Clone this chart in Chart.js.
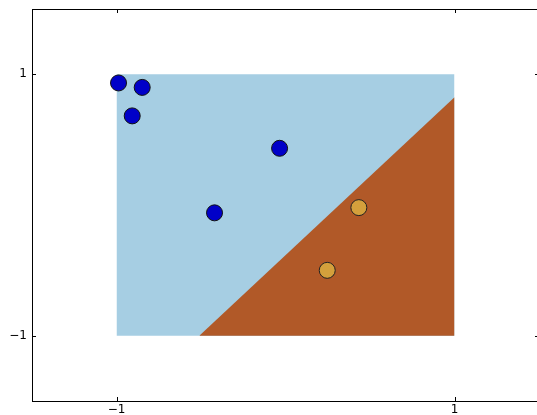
<!DOCTYPE html>
<html>
<head>
<meta charset="utf-8">
<script src="https://cdn.jsdelivr.net/npm/chart.js@4"></script>
<style>
  html, body { margin: 0; padding: 0; background: #fff; overflow: hidden; }
  #wrap { width: 537px; height: 415px; overflow: hidden; }
  #inner { position: relative; width: 548px; height: 415px; }
</style>
</head>
<body>
<div id="wrap"><div id="inner"><canvas id="myChart"></canvas></div></div>
<script>
// sample points, class 0 (blue) and class 1 (gold)
const blueX = [-0.988, -0.848, -0.907, -0.035, -0.42];
const blueY = [0.934, 0.90, 0.682, 0.434, -0.06];
const goldX = [0.434, 0.247];
const goldY = [-0.02, -0.50];

// background mesh box and decision boundary
const boxX = [-1, 1];
const boxTop = 1;
const boxBottom = -1;
const boundaryX = [-0.51, 1];
const boundaryY = [-1, 0.824];

const tickValues = [-1, 1];
const axisMin = -1.5;
const axisMax = 1.5;

function toPoints(xs, ys) {
  return xs.map((x, i) => ({ x: x, y: ys[i] }));
}

// inward ticks on all four sides + frame, like old matplotlib
const frameTicks = {
  id: 'frameTicks',
  afterDraw(chart) {
    const ctx = chart.ctx;
    const a = chart.chartArea;
    const xs = chart.scales.x;
    const ys = chart.scales.y;
    ctx.save();
    ctx.strokeStyle = '#000';
    ctx.lineWidth = 1;
    ctx.beginPath();
    tickValues.forEach(v => {
      const px = Math.round(xs.getPixelForValue(v)) + 0.5;
      ctx.moveTo(px, a.bottom); ctx.lineTo(px, a.bottom - 4);
      ctx.moveTo(px, a.top); ctx.lineTo(px, a.top + 4);
      const py = Math.round(ys.getPixelForValue(v)) + 0.5;
      ctx.moveTo(a.left, py); ctx.lineTo(a.left + 4, py);
      ctx.moveTo(a.right, py); ctx.lineTo(a.right - 4, py);
    });
    ctx.stroke();
    ctx.strokeRect(a.left + 0.5, a.top + 0.5, a.right - a.left, a.bottom - a.top);
    ctx.restore();
  }
};

const ctx = document.getElementById('myChart').getContext('2d');
const myChart = new Chart(ctx, {
  type: 'scatter',
  data: {
    datasets: [
      {
        label: 'class 0',
        data: toPoints(blueX, blueY),
        backgroundColor: '#0000c8',
        borderColor: '#111',
        borderWidth: 1,
        pointRadius: 8,
        order: 0
      },
      {
        label: 'class 1',
        data: toPoints(goldX, goldY),
        backgroundColor: '#d4a03c',
        borderColor: '#222',
        borderWidth: 1,
        pointRadius: 8,
        order: 0
      },
      {
        type: 'line',
        label: 'region 1',
        data: toPoints(boundaryX, boundaryY),
        borderWidth: 0,
        pointRadius: 0,
        backgroundColor: '#b15928',
        fill: { value: boxBottom },
        order: 1
      },
      {
        type: 'line',
        label: 'region 0',
        data: toPoints(boxX, [boxTop, boxTop]),
        borderWidth: 0,
        pointRadius: 0,
        backgroundColor: '#a6cee3',
        fill: { value: boxBottom },
        order: 2
      }
    ]
  },
  options: {
    responsive: true,
    maintainAspectRatio: false,
    animation: false,
    layout: { padding: { top: 8, right: 6, left: 0, bottom: 0 } },
    plugins: {
      legend: { display: false },
      tooltip: { enabled: false }
    },
    scales: {
      x: {
        type: 'linear',
        min: axisMin,
        max: axisMax,
        afterBuildTicks: (scale) => { scale.ticks = tickValues.map(v => ({ value: v })); },
        afterFit: (scale) => {
          scale.height = 14;
          scale.paddingLeft = 0;
          scale.paddingRight = 0;
        },
        grid: { display: false, drawTicks: false },
        border: { display: false },
        ticks: {
          padding: 2,
          color: '#000',
          font: { family: 'DejaVu Sans', size: 12 },
          callback: (v) => String(v).replace('-', '\u2212')
        }
      },
      y: {
        type: 'linear',
        min: axisMin,
        max: axisMax,
        afterBuildTicks: (scale) => { scale.ticks = tickValues.map(v => ({ value: v })); },
        afterFit: (scale) => {
          scale.width = 32;
          scale.paddingTop = 0;
          scale.paddingBottom = 0;
        },
        grid: { display: false, drawTicks: false },
        border: { display: false },
        ticks: {
          padding: 5,
          color: '#000',
          font: { family: 'DejaVu Sans', size: 12 },
          callback: (v) => String(v).replace('-', '\u2212')
        }
      }
    }
  },
  plugins: [frameTicks]
});
</script>
</body>
</html>
